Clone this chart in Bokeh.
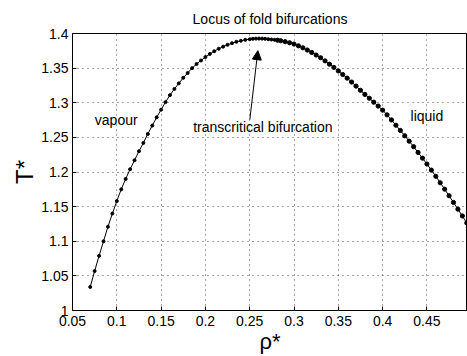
from bokeh.plotting import figure
from bokeh.models import FixedTicker, Label, Arrow, NormalHead, Range1d
from bokeh.embed import file_html
from bokeh.resources import INLINE

# ---- data ----
rho = [0.070, 0.075, 0.080, 0.085, 0.090, 0.095, 0.100, 0.105, 0.110, 0.115,
       0.120, 0.125, 0.130, 0.135, 0.140, 0.145, 0.150, 0.155, 0.160, 0.165,
       0.170, 0.175, 0.180, 0.185, 0.190, 0.195, 0.200, 0.205, 0.210, 0.215,
       0.220, 0.225, 0.230, 0.235, 0.240, 0.245, 0.250, 0.2535, 0.257, 0.2605,
       0.264, 0.2675, 0.271, 0.2745, 0.278, 0.2815, 0.285, 0.290, 0.295, 0.300,
       0.305, 0.310, 0.315, 0.320, 0.325, 0.330, 0.335, 0.340, 0.345, 0.350,
       0.355, 0.360, 0.365, 0.370, 0.375, 0.380, 0.385, 0.390, 0.395, 0.400,
       0.405, 0.410, 0.415, 0.420, 0.425, 0.430, 0.435, 0.440, 0.445, 0.450,
       0.455, 0.460, 0.465, 0.470, 0.475, 0.480, 0.485, 0.490, 0.495, 0.500]
temp = [1.034, 1.057, 1.079, 1.100, 1.121, 1.140, 1.158, 1.175, 1.190, 1.204,
        1.217, 1.230, 1.242, 1.255, 1.267, 1.279, 1.290, 1.301, 1.311, 1.320,
        1.328, 1.336, 1.343, 1.350, 1.356, 1.361, 1.366, 1.3705, 1.3745, 1.378,
        1.381, 1.3837, 1.386, 1.388, 1.3895, 1.3908, 1.3918, 1.3923, 1.3926, 1.3927,
        1.3926, 1.3923, 1.3918, 1.3913, 1.3909, 1.3903, 1.3895, 1.3882, 1.3866, 1.3847,
        1.3822, 1.3793, 1.3761, 1.3726, 1.3689, 1.3650, 1.3605, 1.3557, 1.3510, 1.3460,
        1.3408, 1.3355, 1.3299, 1.3240, 1.3180, 1.3120, 1.3065, 1.3008, 1.2952, 1.2893,
        1.2825, 1.2752, 1.2675, 1.2600, 1.2523, 1.2445, 1.2365, 1.2282, 1.2200, 1.2115,
        1.2027, 1.1938, 1.1845, 1.1752, 1.1657, 1.1560, 1.1463, 1.1365, 1.1265, 1.1165]

x_ticks = [0.05, 0.1, 0.15, 0.2, 0.25, 0.3, 0.35, 0.4, 0.45]
x_tick_labels = ["0.05", "0.1", "0.15", "0.2", "0.25", "0.3", "0.35", "0.4", "0.45"]
y_ticks = [1.0, 1.05, 1.1, 1.15, 1.2, 1.25, 1.3, 1.35, 1.4]
y_tick_labels = ["1", "1.05", "1.1", "1.15", "1.2", "1.25", "1.3", "1.35", "1.4"]

title_text = "Locus of fold bifurcations"
x_label = "ρ*"
y_label = "T*"
region_labels = ["vapour", "transcritical bifurcation", "liquid"]
region_x = [0.0752, 0.1862, 0.4315]
region_y = [1.2754, 1.2655, 1.2813]
arrow_start = (0.2501, 1.2756)
arrow_end = (0.2592, 1.3752)

FONT = "Liberation Sans"

p = figure(width=467, height=356, output_backend="svg", toolbar_location=None,
           x_range=Range1d(0.05, 0.4958), y_range=Range1d(1.0, 1.4),
           min_border_left=72, min_border_right=0, min_border_top=33,
           min_border_bottom=44, background_fill_color="white",
           border_fill_color="white")

p.title.text = title_text
p.title.align = "center"
p.title.text_font = FONT
p.title.text_font_size = "14px"
p.title.text_font_style = "normal"
p.title.text_color = "black"
p.title.standoff = 14

p.outline_line_color = "black"
p.outline_line_width = 1

for ax, ticks, labels in ((p.xaxis[0], x_ticks, x_tick_labels),
                          (p.yaxis[0], y_ticks, y_tick_labels)):
    ax.ticker = FixedTicker(ticks=ticks)
    ax.major_label_overrides = {t: l for t, l in zip(ticks, labels)}
    ax.minor_tick_line_color = None
    ax.major_tick_in = 4
    ax.major_tick_out = 0
    ax.major_tick_line_color = "black"
    ax.axis_line_color = "black"
    ax.major_label_text_font = FONT
    ax.major_label_text_font_size = "14px"
    ax.major_label_text_color = "black"
    ax.axis_label_text_font = FONT
    ax.axis_label_text_font_style = "normal"
    ax.axis_label_text_color = "black"

p.xaxis.axis_label = x_label
p.yaxis.axis_label = y_label
p.xaxis.axis_label_text_font_size = "22px"
p.yaxis.axis_label_text_font_size = "24px"
p.xaxis.major_label_standoff = 5
p.yaxis.major_label_standoff = 4
p.xaxis.axis_label_standoff = 0
p.yaxis.axis_label_standoff = 0

for g in (p.xgrid[0], p.ygrid[0]):
    g.grid_line_color = "#222222"
    g.grid_line_dash = "1 4"
    g.grid_line_width = 1
    g.grid_line_alpha = 0.8

p.line(rho, temp, line_color="black", line_width=1)
split = 45
p.scatter(rho[:split], temp[:split], size=3, color="black")
p.scatter(rho[split:], temp[split:], size=4.2, color="black")

for txt, tx, ty in zip(region_labels, region_x, region_y):
    p.add_layout(Label(x=tx, y=ty, text=txt, text_font=FONT, text_font_size="14px",
                       text_baseline="middle", text_align="left", text_color="black"))

p.add_layout(Arrow(x_start=arrow_start[0], y_start=arrow_start[1],
                   x_end=arrow_end[0], y_end=arrow_end[1],
                   line_color="black", line_width=1,
                   end=NormalHead(size=9, fill_color="black", line_color="black")))

open("out.html", "w").write(file_html(p, INLINE))
